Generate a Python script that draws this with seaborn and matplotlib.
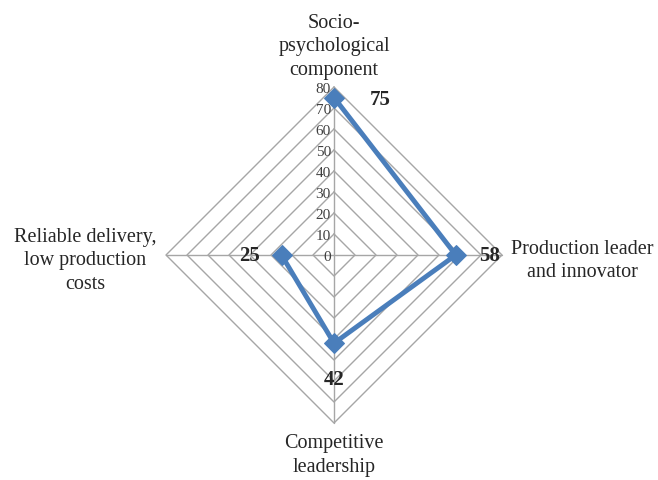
import numpy as np
import pandas as pd
import matplotlib
matplotlib.use("Agg")
import matplotlib.pyplot as plt
import seaborn as sns

categories = ["Socio-\npsychological\ncomponent", "Production leader\nand innovator",
              "Competitive\nleadership", "Reliable delivery,\nlow production\ncosts"]
values = [75, 58, 42, 25]
ticks = [0, 10, 20, 30, 40, 50, 60, 70, 80]

sns.set_style("white")
plt.rcParams['font.family'] = ['Liberation Serif', 'DejaVu Serif']

W, H = 658, 481
cx, cy = 334, 256
ppu = 2.1  # pixels per unit
fig = plt.figure(figsize=(W / 100, H / 100), dpi=100)
ax = fig.add_axes([0, 0, 1, 1])
ax.set_xlim(-cx / ppu, (W - cx) / ppu)
ax.set_ylim(-(H - cy) / ppu, cy / ppu)
ax.set_axis_off()

n = len(categories)
angles = np.arange(n) * 2 * np.pi / n  # clockwise from top

def pol(r, a):
    return r * np.sin(a), r * np.cos(a)

def px(x_pix):
    return (x_pix - cx) / ppu

def py(y_pix):
    return (cy - y_pix) / ppu

grid_col = "#A6A6A6"
for t in ticks[1:]:
    xs, ys = pol(t, np.append(angles, angles[0]))
    ax.plot(xs, ys, color=grid_col, lw=1.0, zorder=1)
for a in angles:
    x1, y1 = pol(ticks[-1], a)
    ax.plot([0, x1], [0, y1], color=grid_col, lw=1.0, zorder=1)

xs, ys = pol(np.array(values + [values[0]]), np.append(angles, angles[0]))
df = pd.DataFrame({"x": xs, "y": ys})
sns.lineplot(data=df, x="x", y="y", sort=False, ax=ax, color="#4A7EBB", lw=3.5,
             marker="D", markersize=10, markeredgecolor="#4A7EBB", zorder=3)
ax.set_xlabel("")
ax.set_ylabel("")

for t in ticks:
    ax.text(-1.5, t - 0.5, str(t), ha="right", va="center", fontsize=11, color="#404040")

fs = 14.5
ls = 1.33
ax.text(0, py(80), categories[0], ha="center", va="bottom", fontsize=fs, linespacing=ls, multialignment="center")
ax.text(px(582), py(261), categories[1], ha="center", va="center", fontsize=fs, linespacing=ls, multialignment="center")
ax.text(0, py(434), categories[2], ha="center", va="top", fontsize=fs, linespacing=ls, multialignment="center")
ax.text(px(85), py(261), categories[3], ha="center", va="center", fontsize=fs, linespacing=ls, multialignment="center")

vx = [px(380), px(490), 0, px(250)]
vy = [py(100), 0, py(380), 0]
for v, x, y in zip(values, vx, vy):
    ax.text(x, y, str(v), ha="center", va="center", fontsize=15, fontweight="bold")

fig.savefig("out.png", dpi=100)
